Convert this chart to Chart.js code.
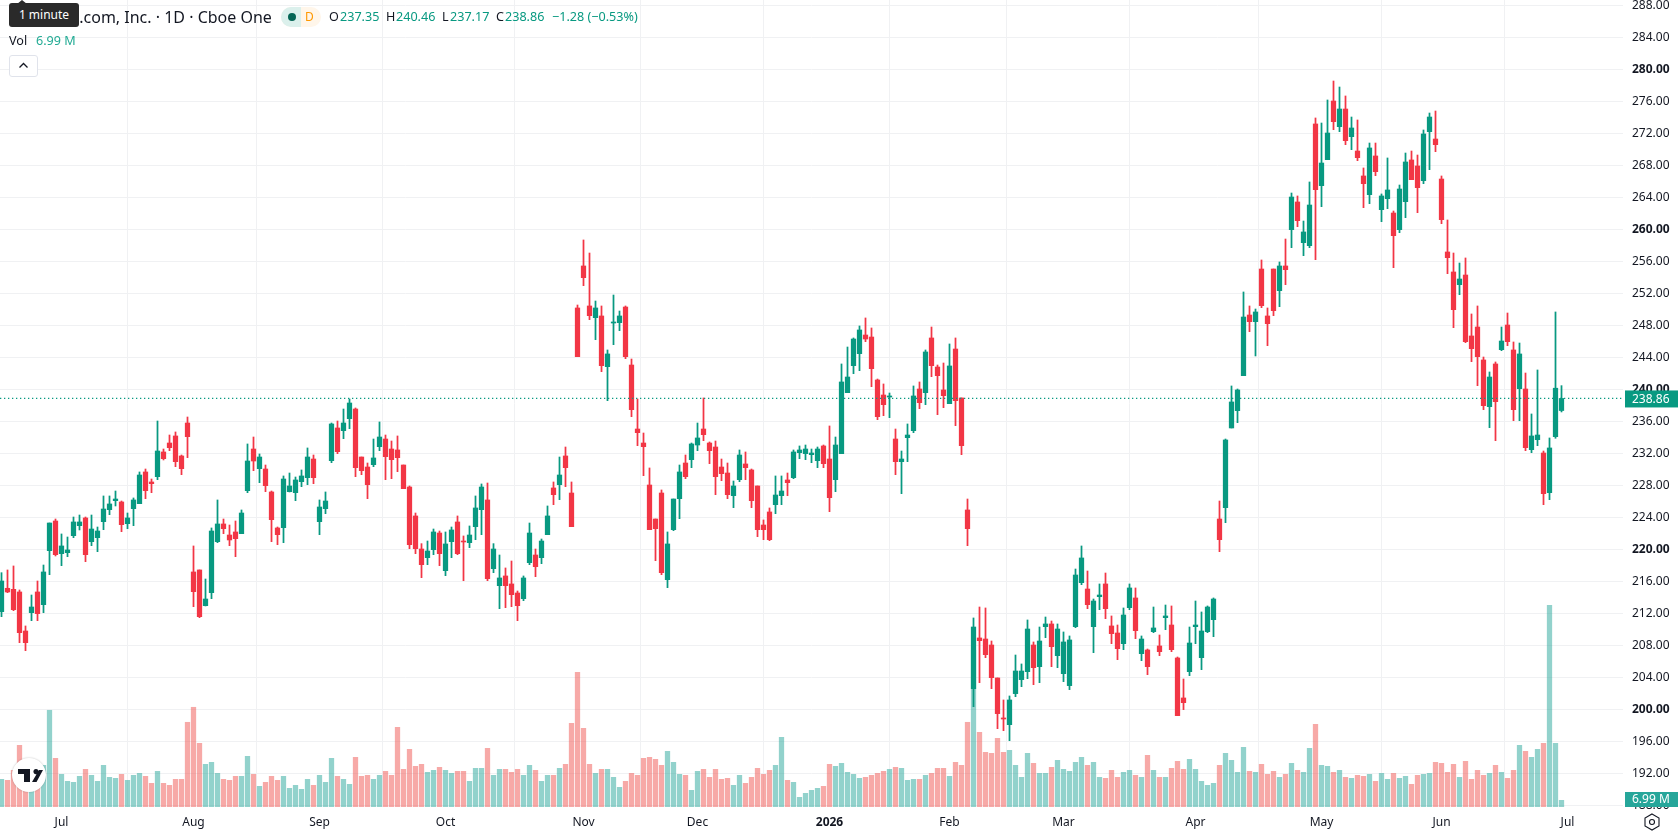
<!DOCTYPE html>
<html>
<head>
<meta charset="utf-8">
<title>AMZN 1D</title>
<script src="https://cdn.jsdelivr.net/npm/chart.js@4"></script>
<style>
  html, body { margin: 0; padding: 0; background: #fff; }
  #wrap { position: relative; width: 1678px; height: 835px; overflow: hidden; font-family: "Noto Sans", sans-serif; color: #131722; }
  #chart { position: absolute; left: 0; top: 0; }
  .t { position: absolute; white-space: nowrap; font-size: 12.6px; line-height: 18px; }
  .up { color: #089981; }
  #tip { position: absolute; left: 9px; top: 3px; width: 70px; height: 24px; background: #2a2a2a; border-radius: 3px; color: #fff; font-size: 12px; line-height: 24px; text-align: center; }
  #tip:before { content: ""; position: absolute; left: 8px; top: -3px; border-left: 5px solid transparent; border-right: 5px solid transparent; border-bottom: 4px solid #2a2a2a; }
  #pill { position: absolute; left: 281px; top: 7px; width: 40px; height: 20px; border-radius: 10px; overflow: hidden; background: #fff6ea; }
  #pill i { position: absolute; left: 0; top: 0; width: 20px; height: 20px; background: #dbf0ec; }
  #pill b { position: absolute; left: 7px; top: 6px; width: 8px; height: 8px; border-radius: 50%; background: #056656; }
  #pill span { position: absolute; left: 24px; top: 0; font-size: 12px; line-height: 20px; color: #ff9800; }
  #collapse { position: absolute; left: 9px; top: 55px; width: 27px; height: 20px; border: 1px solid #e0e3eb; border-radius: 3px; background: #fff; }
  #logo { position: absolute; left: 12px; top: 758px; width: 34px; height: 34px; border-radius: 50%; background: #fff; box-shadow: 0 0 2px rgba(0,0,0,.25); }
  #gear { position: absolute; left: 1642px; top: 811px; }
</style>
</head>
<body>
<div id="wrap">
  <canvas id="chart" width="1678" height="835"></canvas>

  <div class="t" style="left:18px;top:8px;font-size:16px">Amazon.com, Inc. · 1D · Cboe One</div>
  <div id="tip">1 minute</div>
  <div id="pill"><i></i><b></b><span>D</span></div>
  <div class="t" style="left:329px;top:8px">O</div><div class="t up" style="left:340px;top:8px">237.35</div>
  <div class="t" style="left:386px;top:8px">H</div><div class="t up" style="left:396px;top:8px">240.46</div>
  <div class="t" style="left:442px;top:8px">L</div><div class="t up" style="left:450px;top:8px">237.17</div>
  <div class="t" style="left:496px;top:8px">C</div><div class="t up" style="left:505px;top:8px">238.86</div>
  <div class="t up" style="left:552px;top:8px">−1.28 (−0.53%)</div>
  <div class="t" style="left:9px;top:32px">Vol</div>
  <div class="t" style="left:36px;top:32px;color:#22ab94">6.99 M</div>
  <div id="collapse">
    <svg width="27" height="20" viewBox="0 0 27 20"><path d="M9.5 11.5 L13.5 7.5 L17.5 11.5" fill="none" stroke="#131722" stroke-width="1.3"/></svg>
  </div>
  <div id="logo">
    <svg width="34" height="34" viewBox="0 0 34 34"><path d="M6 11 H18 V24 H12 V16 H6 Z M24 11 a2.6 2.6 0 1 1 -0.01 0 Z M27 12 H31 L24.5 24 H20 Z" fill="#131722"/></svg>
  </div>
  <svg id="gear" width="20" height="22" viewBox="0 0 20 22">
    <path d="M10 3 L17 7 V15 L10 19 L3 15 V7 Z" fill="none" stroke="#131722" stroke-width="1.1"/>
    <circle cx="10" cy="11" r="2.5" fill="none" stroke="#131722" stroke-width="1.1"/>
  </svg>
</div>

<script>
'use strict';

const opens = [
  212.21,215.13,215.0,214.67,209.79,212.08,214.67,213.08,219.83,223.54,
  219.46,219.58,221.71,222.96,223.92,220.96,221.46,223.46,224.96,226.08,
  225.92,223.21,225.08,225.71,229.67,228.42,229.08,232.17,233.29,234.17,
  231.67,235.79,217.17,217.42,212.96,214.58,220.96,223.17,221.79,222.17,
  221.96,227.33,232.54,230.08,230.04,227.17,222.67,222.71,227.21,227.08,
  228.46,228.96,231.29,223.46,225.08,231.08,235.17,234.83,236.33,237.54,
  231.54,230.29,230.58,232.83,233.79,232.54,232.42,230.54,227.79,224.17,
  220.04,218.96,219.96,222.04,217.33,220.96,223.42,221.04,220.83,222.83,
  224.96,226.17,217.58,215.46,216.67,215.67,214.54,213.83,218.33,219.29,
  218.96,221.83,227.67,228.08,231.67,227.04,250.17,255.42,250.42,248.96,
  249.17,242.83,248.29,248.33,250.29,243.04,235.04,233.29,228.04,223.79,
  227.04,216.21,222.46,226.33,230.79,231.21,233.04,235.04,233.29,232.79,
  230.29,229.54,226.71,228.71,230.67,229.92,227.92,223.04,224.67,225.58,
  226.71,228.67,228.96,232.08,231.96,231.83,231.08,232.92,231.29,228.71,
  231.96,239.58,242.96,244.46,246.79,246.54,241.17,239.29,239.04,233.79,
  230.96,233.96,234.83,240.04,239.58,246.42,242.79,239.92,238.21,245.04,
  238.92,224.92,202.58,208.92,208.79,208.04,203.92,198.92,198.08,201.96,
  203.71,204.71,208.04,205.33,210.33,210.67,206.71,204.46,202.96,210.33,
  215.83,215.04,210.33,214.08,215.67,210.42,209.54,208.21,212.71,213.92,
  206.96,207.42,209.71,207.92,211.46,210.54,206.42,201.42,204.71,210.33,
  206.46,209.71,211.21,223.79,225.21,235.17,237.33,241.71,249.29,248.46,
  255.04,249.17,255.04,252.33,255.42,259.96,263.42,258.33,257.96,273.17,
  265.46,268.71,276.04,272.83,275.04,271.58,269.79,266.67,264.33,269.17,
  262.46,263.83,262.04,259.96,263.46,268.67,267.92,266.08,272.21,271.29,
  266.29,257.17,254.67,253.08,254.29,246.67,247.79,243.67,237.83,243.17,
  244.96,248.04,244.92,240.08,240.04,232.46,233.71,232.04,227.08,234.08,
  237.35
];

const highs = [
  217.08,217.42,217.92,214.92,210.42,214.29,216.04,218.04,223.29,223.79,
  221.92,221.54,224.04,224.29,224.04,224.29,222.79,226.67,226.67,227.29,
  226.04,224.54,226.42,229.67,230.04,228.79,236.04,232.54,234.29,234.67,
  231.79,236.54,220.42,217.42,216.29,222.67,226.17,223.79,223.04,223.54,
  224.92,233.17,234.04,231.92,230.54,227.29,222.79,229.17,229.54,229.04,
  229.92,232.67,231.79,226.17,227.17,235.79,236.04,237.54,238.79,237.67,
  231.54,230.79,233.79,235.92,234.29,233.54,234.17,230.54,227.92,224.54,
  220.71,221.04,222.54,222.29,222.17,222.79,224.17,221.67,222.92,226.67,
  228.17,228.29,220.71,219.29,217.67,218.54,214.79,216.67,223.29,220.04,
  221.29,225.42,228.42,231.54,232.79,228.42,250.54,258.67,257.04,251.04,
  250.42,244.92,251.79,249.79,250.42,243.79,238.79,234.54,230.17,223.79,
  227.42,222.17,226.29,230.54,231.79,233.29,235.79,238.92,233.42,233.54,
  231.29,230.79,228.54,232.42,232.17,230.04,227.92,223.67,225.17,229.17,
  229.17,229.54,232.42,232.92,233.04,232.54,232.79,233.04,235.42,234.04,
  243.17,245.29,246.42,247.92,248.92,247.67,241.29,240.67,239.54,235.04,
  232.29,235.67,240.42,240.92,244.92,247.79,243.04,243.29,245.67,246.42,
  238.92,226.29,211.42,212.79,212.67,208.54,203.92,201.17,201.67,206.79,
  205.67,211.17,208.42,210.29,211.54,211.04,210.67,209.67,209.17,217.54,
  220.42,217.29,213.79,215.67,217.04,211.67,210.54,212.67,215.67,215.17,
  209.17,207.54,212.79,209.29,213.04,212.92,206.54,203.79,210.29,213.54,
  212.17,212.92,213.92,226.04,233.79,240.42,240.04,252.17,250.42,250.04,
  256.17,250.17,255.04,255.92,258.79,264.54,264.17,261.04,265.92,273.92,
  273.29,276.17,278.54,277.79,276.67,274.04,273.67,267.67,270.79,270.79,
  264.42,268.92,262.29,265.54,269.54,269.79,269.29,272.42,274.54,274.79,
  266.67,261.17,257.04,255.79,256.42,249.42,250.42,244.04,242.17,243.42,
  247.79,249.54,245.92,245.79,242.04,236.92,242.42,232.29,233.92,249.67,
  240.46
];

const lows = [
  211.58,214.58,212.33,208.33,207.33,211.08,211.08,212.08,216.83,219.17,
  217.96,219.08,221.46,222.42,218.46,220.46,219.71,222.46,224.33,225.42,
  222.21,222.58,222.96,225.71,226.33,227.08,228.71,231.17,232.33,230.33,
  229.33,231.46,212.83,211.46,212.92,213.83,220.83,221.96,220.46,219.08,
  221.96,227.08,229.83,228.33,227.21,220.96,220.58,220.83,227.17,226.08,
  227.83,228.08,228.21,221.83,224.46,230.83,231.96,233.83,235.08,229.08,
  229.33,226.33,230.33,232.33,228.71,228.83,229.71,227.58,220.08,219.46,
  216.46,218.08,219.33,217.96,216.71,218.96,219.33,216.08,220.21,221.21,
  221.83,216.08,217.08,212.58,212.71,212.83,211.08,213.58,218.08,216.58,
  218.21,221.83,225.58,226.21,227.83,222.83,244.08,252.96,248.71,246.21,
  242.21,238.58,245.58,247.33,243.83,236.58,232.96,229.21,222.46,218.58,
  216.83,215.21,222.33,223.83,228.83,230.21,232.33,233.58,230.71,226.83,
  228.58,226.33,225.21,228.46,228.71,225.21,221.58,221.21,221.08,224.46,
  225.58,226.71,228.83,231.33,231.21,230.83,230.21,230.21,224.71,227.21,
  231.96,239.58,241.96,242.33,245.96,240.33,236.21,236.71,236.46,229.33,
  226.96,230.96,234.58,237.58,238.08,241.58,236.83,237.71,238.21,235.46,
  231.83,220.46,200.33,203.33,206.46,202.58,197.58,197.33,196.08,201.58,
  202.83,203.83,203.08,203.33,208.96,205.33,205.21,203.46,202.46,210.21,
  215.58,212.58,207.08,212.46,211.33,208.21,206.21,207.46,212.46,208.83,
  206.08,204.33,209.58,206.71,209.96,207.21,199.21,199.96,204.21,208.21,
  204.96,209.58,209.08,219.71,223.33,235.17,235.83,241.71,247.21,244.17,
  250.21,245.46,249.21,250.33,253.08,257.71,260.33,256.71,257.71,256.21,
  262.83,268.71,272.46,272.21,270.58,269.96,268.58,262.71,263.21,266.71,
  260.96,262.58,255.21,259.58,261.46,266.21,262.08,265.71,267.46,269.71,
  260.71,254.46,247.71,251.83,245.83,243.46,240.46,237.46,235.21,233.58,
  244.83,245.46,236.08,236.08,232.33,232.08,232.96,225.58,226.21,233.88,
  237.17
];

const closes = [
  216.04,214.67,212.46,209.58,208.33,212.79,211.96,217.17,223.29,219.33,
  220.42,219.92,223.42,223.42,219.33,222.54,222.29,225.04,225.67,226.29,
  223.08,223.92,226.17,229.29,227.33,228.21,232.29,231.33,232.71,230.96,
  230.08,234.08,214.71,211.58,213.79,222.29,223.17,222.58,221.17,221.33,
  224.54,231.04,231.04,231.54,227.96,223.71,221.83,228.79,227.92,228.67,
  229.17,231.54,228.96,225.29,226.04,235.67,232.21,235.79,238.29,230.21,
  229.83,228.08,231.42,234.04,231.58,231.21,231.46,227.58,220.58,220.08,
  218.08,219.79,222.17,219.46,220.67,222.42,219.46,220.92,221.79,225.17,
  227.79,216.33,220.04,216.42,215.46,214.33,212.96,216.42,222.04,217.83,
  221.04,224.17,226.83,229.29,230.21,222.83,244.08,253.96,249.21,250.17,
  242.96,244.42,248.42,249.17,244.08,237.46,234.58,232.83,222.46,222.58,
  217.08,220.67,226.29,229.67,229.08,233.17,233.92,234.33,232.33,229.08,
  229.46,226.83,227.92,231.79,230.21,226.08,222.46,222.46,221.21,226.79,
  227.29,228.33,232.17,232.42,232.54,232.04,232.54,230.71,226.46,233.04,
  240.92,241.54,246.29,247.42,246.29,242.58,236.58,238.08,239.17,230.96,
  231.29,234.29,239.17,238.33,244.67,242.96,241.71,239.21,242.92,238.58,
  232.96,222.58,210.29,208.58,206.83,203.96,199.46,198.79,201.17,204.79,
  204.79,210.04,205.21,208.54,210.67,207.83,210.04,208.42,208.67,216.79,
  218.92,213.08,213.54,214.29,212.58,209.46,207.58,211.79,215.17,209.83,
  208.79,205.33,210.17,207.21,211.67,207.46,199.21,200.83,208.29,210.54,
  209.79,212.79,213.79,221.21,233.67,238.42,239.92,249.04,248.46,249.67,
  250.46,248.21,249.83,255.42,254.96,264.04,261.08,259.67,263.04,264.96,
  268.29,272.04,273.46,275.04,271.08,272.67,268.96,265.71,270.17,267.21,
  264.17,264.92,259.21,265.04,268.42,266.21,265.21,271.92,274.04,270.58,
  261.21,256.46,249.96,253.79,245.96,245.08,244.08,237.96,241.54,238.46,
  246.04,245.96,237.46,244.42,232.71,234.17,234.29,226.96,232.67,240.14,
  238.86
];

// volume in millions of shares
const volumes = [
  29.05,28,38.5,64.75,33.25,35,35,43.75,101.5,51.1,
  34.3,26.95,25.9,32.2,39.55,33.25,26.95,43.75,31.15,30.1,
  34.3,28,33.25,35.35,32.2,24.85,37.45,24.85,22.75,29.05,
  29.05,88.9,104.65,66.85,44.8,46.9,35.35,29.05,28,32.2,
  32.2,53.2,34.3,21.7,25.9,32.2,28,32.2,19.6,22.75,
  18.55,29.05,22.75,33.25,25.9,51.1,32.2,29.05,23.8,52.15,
  32.2,33.25,29.05,33.25,37.45,33.25,83.65,39.55,60.55,42.7,
  44.8,36.4,38.5,41.65,38.5,35.35,37.45,37.45,26.95,40.6,
  40.6,61.6,33.25,39.55,39.55,36.4,39.55,33.25,43.75,38.5,
  26.95,33.25,33.25,40.6,44.8,87.85,141.4,82.6,44.8,35.35,
  39.55,39.55,31.15,20.65,26.95,35.35,33.25,51.1,52.15,50.05,
  43.75,58.45,46.9,34.3,33.25,17.5,37.45,39.55,31.15,39.55,
  29.05,30.1,22.75,33.25,24.85,31.15,40.6,34.3,38.5,43.75,
  73.15,28,25.9,10.15,14.35,17.5,19.6,21.7,44.8,42.7,
  45.85,36.4,34.3,30.1,31.15,33.25,35.35,37.45,39.55,41.65,
  40.6,28,29.05,29.05,33.25,35.35,40.6,40.6,32.2,46.9,
  43.75,88.9,164.5,78.4,57.4,56.35,72.1,57.4,59.5,43.75,
  31.15,56.35,45.85,35.35,35.35,41.65,49,39.55,37.45,46.9,
  52.15,43.75,46.9,31.15,30.1,38.5,31.15,36.4,38.5,33.25,
  31.15,54.25,38.5,31.15,31.15,40.6,47.95,39.55,50.05,39.55,
  26.95,22.75,24.85,43.75,56.35,49,36.4,62.65,37.45,36.4,
  44.8,34.3,37.45,31.15,34.3,45.85,38.5,36.4,61.6,86.8,
  43.75,42.7,36.4,38.5,31.15,30.1,33.25,32.2,34.3,26.95,
  35.35,29.05,35.35,30.1,32.2,23.8,33.25,34.3,35.35,46.9,
  45.85,36.4,44.8,31.15,47.95,29.05,38.5,33.25,35.35,43.75,
  36.4,30.1,38.5,64.75,58.45,52.15,60.55,66.85,211.75,66.85,
  6.99
];

// candle positions where a month starts, and what the time axis prints there
const monthTicks = [10, 32, 53, 74, 97, 116, 138, 158, 177, 199, 220, 240, 261];
const monthLabels = ['Jul', 'Aug', 'Sep', 'Oct', 'Nov', 'Dec', '2026', 'Feb', 'Mar', 'Apr', 'May', 'Jun', 'Jul'];

const priceTicks = [188,192,196,200,204,208,212,216,220,224,228,232,236,240,244,248,252,256,260,264,268,272,276,280,284,288];
const boldPrices = [200, 220, 240, 260, 280];

const lastPrice = 238.86;
const lastVolume = 6.99;

const UP = '#089981';
const DOWN = '#F23645';
const GRID = '#f0f1f3';
const TEXT = '#131722';
const FONT = '"Noto Sans", sans-serif';

// 6px per candle, 1623px wide plot
const xMin = -0.25;
const xMax = 270.25;

const candleColors = closes.map((c, i) => (c >= opens[i] ? UP : DOWN));
const volumeColors = closes.map((c, i) => (c >= opens[i] ? 'rgba(38,166,154,0.5)' : 'rgba(239,83,80,0.5)'));

const isBoldPrice = ctx => ctx.tick && boldPrices.includes(ctx.tick.value);
const isBoldMonth = ctx => ctx.tick && monthLabels[monthTicks.indexOf(ctx.tick.value)] === '2026';

// price and volume tags sit on top of the axis labels
const tagsPlugin = {
  id: 'axisTags',
  afterDraw(chart) {
    const { ctx, chartArea, scales } = chart;
    const drawTag = (y, h, color, label) => {
      ctx.save();
      ctx.fillStyle = color;
      ctx.fillRect(chartArea.right + 2, y, chart.width - chartArea.right - 2, h);
      ctx.fillStyle = '#fff';
      ctx.font = '12px ' + FONT;
      ctx.textBaseline = 'middle';
      ctx.fillText(label, chartArea.right + 9, y + h / 2 + 0.5);
      ctx.restore();
    };
    drawTag(scales.y.getPixelForValue(lastPrice) - 8, 17, UP, lastPrice.toFixed(2));
    drawTag(scales.vol.getPixelForValue(0) - 15, 15, '#26a69a', lastVolume.toFixed(2) + ' M');
  }
};

// no room reserved for labels hanging over the plot edges
const noEdgePadding = axis => {
  axis.paddingTop = 0;
  axis.paddingBottom = 0;
  axis.paddingLeft = 0;
  axis.paddingRight = 0;
};

const chart = new Chart(document.getElementById('chart').getContext('2d'), {
  type: 'bar',
  plugins: [tagsPlugin],
  data: {
    datasets: [
      {
        type: 'line',
        order: 0,
        xAxisID: 'x',
        yAxisID: 'y',
        data: [{ x: xMin, y: lastPrice }, { x: xMax, y: lastPrice }],
        borderColor: UP,
        borderWidth: 1.3,
        borderDash: [1.3, 2.7],
        pointRadius: 0
      },
      {
        // candle bodies
        order: 1,
        xAxisID: 'x',
        yAxisID: 'y',
        grouped: false,
        barThickness: 4.6,
        data: opens.map((o, i) => ({ x: i, y: [o, closes[i]] })),
        backgroundColor: candleColors
      },
      {
        // wicks
        order: 2,
        xAxisID: 'x',
        yAxisID: 'y',
        grouped: false,
        barThickness: 1.1,
        data: lows.map((l, i) => ({ x: i, y: [l, highs[i]] })),
        backgroundColor: candleColors
      },
      {
        order: 3,
        xAxisID: 'x',
        yAxisID: 'vol',
        grouped: false,
        barThickness: 4.6,
        data: volumes.map((v, i) => ({ x: i, y: v })),
        backgroundColor: volumeColors
      }
    ]
  },
  options: {
    responsive: false,
    animation: false,
    layout: { padding: 0 },
    plugins: { legend: { display: false }, tooltip: { enabled: false } },
    scales: {
      x: {
        type: 'linear',
        min: xMin,
        max: xMax,
        offset: false,
        afterBuildTicks: axis => { axis.ticks = monthTicks.map(v => ({ value: v })); },
        afterFit: axis => { axis.height = 28; noEdgePadding(axis); },
        grid: { color: GRID, drawTicks: false },
        border: { display: false },
        ticks: {
          autoSkip: false,
          maxRotation: 0,
          padding: 8,
          color: TEXT,
          font: ctx => ({ family: FONT, size: 12, weight: isBoldMonth(ctx) ? '700' : '400' }),
          callback: value => monthLabels[monthTicks.indexOf(value)]
        }
      },
      y: {
        position: 'right',
        min: 187.79,
        max: 288.667,
        afterBuildTicks: axis => { axis.ticks = priceTicks.map(v => ({ value: v })); },
        afterFit: axis => { axis.width = 55; noEdgePadding(axis); },
        grid: { color: GRID, drawTicks: false },
        border: { display: false },
        ticks: {
          autoSkip: false,
          padding: 9,
          color: TEXT,
          font: ctx => ({ family: FONT, size: 12, weight: isBoldPrice(ctx) ? '700' : '400' }),
          callback: value => value.toFixed(2)
        }
      },
      vol: {
        display: false,
        min: 0,
        max: 847
      }
    }
  }
});
</script>
</body>
</html>
